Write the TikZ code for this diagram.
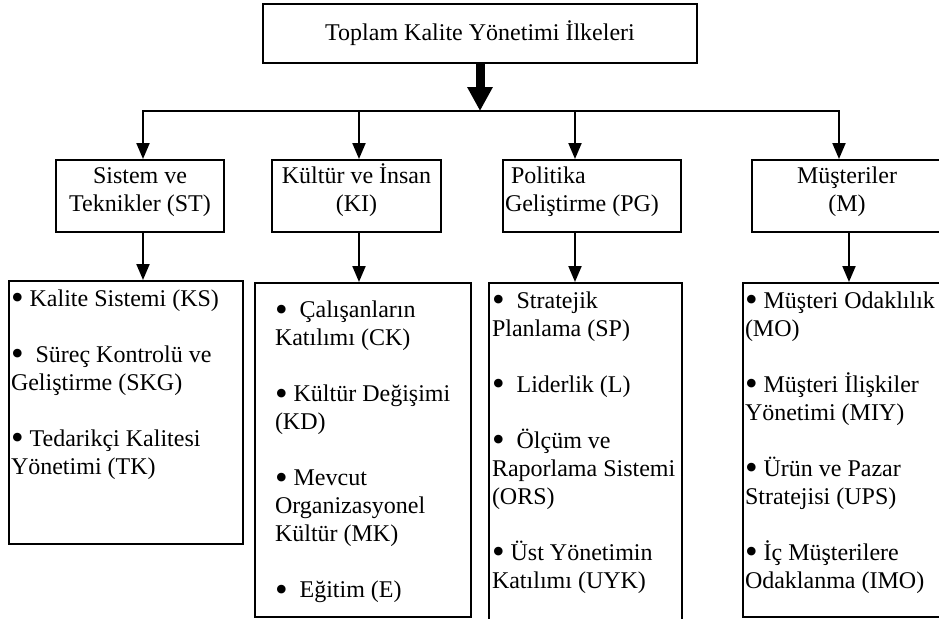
\documentclass[tikz,border=0pt]{standalone}
\usepackage{fontspec}
\setmainfont{Liberation Serif}
\usetikzlibrary{arrows.meta}

\newcommand{\maddeler}[4]{\parbox[t][#1][t]{#2}{\vspace*{#3}#4}}
\newcommand{\madde}{\raisebox{-1.8pt}{\fontsize{18}{14}\selectfont •}}

\begin{document}
\begin{tikzpicture}[x=0.5pt, y=-0.5pt,
  kutu/.style={draw, line width=1pt, font=\fontsize{12}{14}\selectfont},
  grup/.style={kutu, inner xsep=1pt, minimum height=36pt, text height=8pt, text depth=21pt},
  ok/.style={line width=1pt, -{Triangle[length=8pt, width=6.5pt]}},
  kalinok/.style={line width=4.5pt, -{Triangle[length=12pt, width=12pt]}}]

  % Page
  \useasboundingbox (0,0) rectangle (939,618);
  \clip (0,0) rectangle (939,618);

  % Title
  \draw (480,33.5) node[kutu, line width=1.25pt, minimum width=217pt, minimum height=29.5pt] (ilkeler) {Toplam Kalite Yönetimi İlkeleri};

  % Main groups
  \draw (140,196) node[grup, align=flush center, text width=82pt] (st) {Sistem ve\\Teknikler (ST)};
  \draw (356.5,196) node[grup, align=flush center, text width=82.5pt] (ki) {Kültür ve İnsan\\(KI)};
  \draw (592,196) node[grup, align=flush left, text width=87pt] (pg) {\ Politika\\Geliştirme (PG)};
  \draw (847,196) node[grup, align=flush center, text width=93pt] (m) {Müşteriler\\(M)};

  % Sub items
  \draw (8,280) node[kutu, anchor=north west, inner xsep=1pt, inner ysep=0pt] (st-alt)
    {\maddeler{131.5pt}{115pt}{4.2pt}{\madde\ Kalite Sistemi (KS)\\[14pt]
     \madde\ \ Süreç Kontrolü ve\\Geliştirme (SKG)\\[14pt]
     \madde\ Tedarikçi Kalitesi\\Yönetimi (TK)}};
  \draw (254,282) node[kutu, anchor=north west, inner xsep=10pt, inner ysep=0pt] (ki-alt)
    {\maddeler{167pt}{88pt}{9pt}{\madde\ \ Çalışanların\\Katılımı (CK)\\[14pt]
     \madde\ Kültür Değişimi\\(KD)\\[14pt]
     \madde\ Mevcut\\Organizasyonel\\Kültür (MK)\\[14pt]
     \madde\ \ Eğitim (E)}};
  \draw (488,282) node[kutu, anchor=north west, inner xsep=1.5pt, inner ysep=0pt] (pg-alt)
    {\maddeler{180pt}{93.5pt}{4.2pt}{\madde\ \ Stratejik\\Planlama (SP)\\[14pt]
     \madde\ \ Liderlik (L)\\[14pt]
     \madde\ \ Ölçüm ve\\Raporlama Sistemi\\(ORS)\\[14pt]
     \madde\ Üst Yönetimin\\Katılımı (UYK)}};
  \draw (742,282) node[kutu, anchor=north west, inner xsep=1pt, inner ysep=0pt] (m-alt)
    {\maddeler{167pt}{99.5pt}{4.2pt}{\madde\ Müşteri Odaklılık\\(MO)\\[14pt]
     \madde\ Müşteri İlişkiler\\Yönetimi (MIY)\\[14pt]
     \madde\ Ürün ve Pazar\\Stratejisi (UPS)\\[14pt]
     \madde\ İç Müşterilere\\Odaklanma (IMO)}};

  % Bus
  \coordinate (hat-st) at (143,111);
  \coordinate (hat-ki) at (359,111);
  \coordinate (hat-pg) at (575,111);
  \coordinate (hat-m) at (839,111);
  \draw[line width=1pt, line cap=rect] (hat-st) -- (hat-m);
  \draw[kalinok] (ilkeler.south) -- (ilkeler.south |- hat-st);

  % Arrows to the groups
  \draw[ok] (hat-st) -- (hat-st |- st.north);
  \draw[ok] (hat-ki) -- (hat-ki |- ki.north);
  \draw[ok] (hat-pg) -- (hat-pg |- pg.north);
  \draw[ok] (hat-m) -- (hat-m |- m.north);

  % Arrows to the items
  \draw[ok] (hat-st |- st.south) -- (hat-st |- st-alt.north);
  \draw[ok] (hat-ki |- ki.south) -- (hat-ki |- ki-alt.north);
  \draw[ok] (hat-pg |- pg.south) -- (hat-pg |- pg-alt.north);
  \draw[ok] ([xshift=1pt]m.south) -- ([xshift=1pt]m.south |- m-alt.north);

\end{tikzpicture}
\end{document}
